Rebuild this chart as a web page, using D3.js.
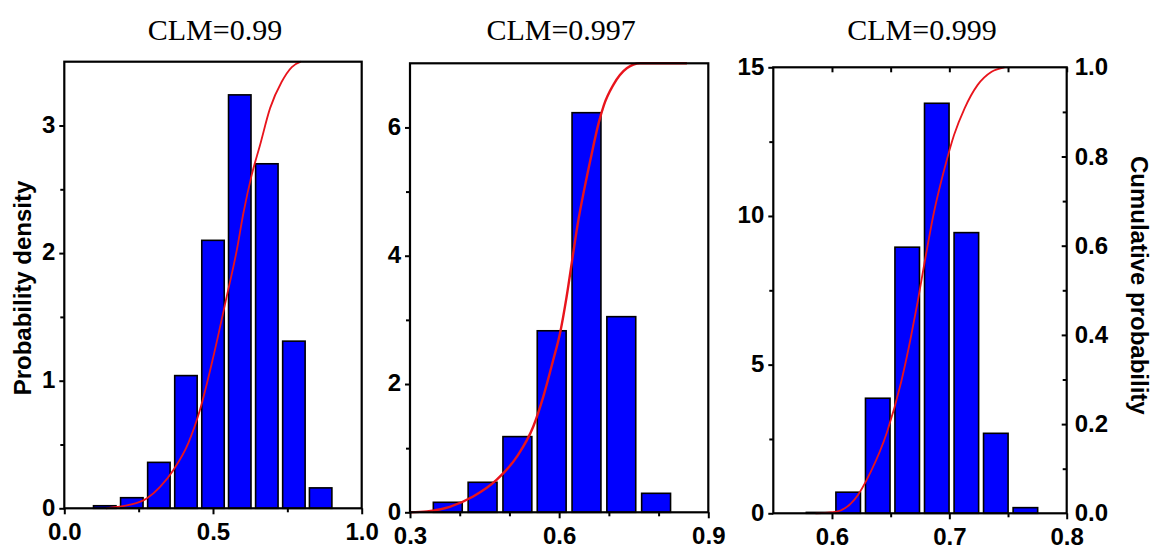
<!DOCTYPE html>
<html><head><meta charset="utf-8">
<script src="https://cdn.jsdelivr.net/npm/d3@7"></script>
<style>
html,body{margin:0;padding:0;background:#fff;}
svg{display:block;}
.tick text{font-family:"Liberation Sans",Arial,sans-serif;font-weight:bold;font-size:24px;fill:#000;}
</style></head>
<body>
<svg id="chart" width="1163" height="553"></svg>
<script>
// ---------- data ----------
const titles = ["CLM=0.99", "CLM=0.997", "CLM=0.999"];

const binCenters1 = [0.136, 0.227, 0.318, 0.409, 0.500, 0.590, 0.681, 0.772, 0.862];
const density1    = [0.02, 0.083, 0.36, 1.04, 2.10, 3.24, 2.70, 1.31, 0.16];
const cdfX1 = [0.14, 0.176, 0.221, 0.277, 0.322, 0.367, 0.417, 0.456, 0.501, 0.546, 0.580, 0.602, 0.630, 0.658, 0.692, 0.731, 0.765, 0.795];
const cdfP1 = [0.0, 0.003, 0.008, 0.022, 0.048, 0.086, 0.146, 0.220, 0.339, 0.474, 0.578, 0.660, 0.746, 0.813, 0.896, 0.955, 0.988, 1.0];

const binCenters2 = [0.376, 0.446, 0.516, 0.585, 0.655, 0.725, 0.795];
const density2    = [0.156, 0.468, 1.18, 2.83, 6.23, 3.05, 0.296];
const cdfX2 = [0.30, 0.334, 0.380, 0.427, 0.474, 0.515, 0.548, 0.568, 0.588, 0.602, 0.615, 0.628, 0.637, 0.651, 0.665, 0.679, 0.690, 0.709, 0.736, 0.763, 0.857];
const cdfP2 = [0.0, 0.002, 0.012, 0.035, 0.072, 0.124, 0.191, 0.257, 0.339, 0.400, 0.480, 0.575, 0.640, 0.722, 0.796, 0.865, 0.907, 0.952, 0.989, 1.0, 1.0];

const binCenters3 = [0.5886, 0.6138, 0.6390, 0.6641, 0.6893, 0.7145, 0.7396, 0.7648];
const density3    = [0.03, 0.71, 3.87, 8.95, 13.79, 9.44, 2.69, 0.19];
const cdfX3 = [0.586, 0.604, 0.619, 0.633, 0.647, 0.659, 0.667, 0.673, 0.679, 0.687, 0.696, 0.704, 0.713, 0.724, 0.736, 0.747];
const cdfP3 = [0.0, 0.004, 0.030, 0.093, 0.183, 0.295, 0.392, 0.474, 0.564, 0.676, 0.774, 0.848, 0.908, 0.960, 0.990, 1.0];

const xDomains = [[0, 1], [0.3, 0.9], [0.55, 0.8]];
const yDomains = [[0, 3.5], [0, 7], [0, 15]];
const xTickLabels = [[0, 0.5, 1.0], [0.3, 0.6, 0.9], [0.6, 0.7, 0.8]];
const xMinorTicks = [[0.25, 0.75], [0.4, 0.5, 0.7, 0.8], [0.65, 0.75]];
const yTickLabels = [[0, 1, 2, 3], [0, 2, 4, 6], [0, 5, 10, 15]];
const yMinorTicks = [[0.5, 1.5, 2.5], [1, 3, 5], [2.5, 7.5, 12.5]];
const cdfTickLabels = [0, 0.2, 0.4, 0.6, 0.8, 1.0];
const cdfMinorTicks = [0.1, 0.3, 0.5, 0.7, 0.9];
const yAxisTitle = "Probability density";
const cdfAxisTitle = "Cumulative probability";

// ---------- layout ----------
const frames = [
  {l: 64.3, r: 361.7, t: 61.7, b: 508.3},
  {l: 410, r: 708.3, t: 63.3, b: 512.3},
  {l: 773.3, r: 1066.7, t: 67.3, b: 513.3}
];
const series = [
  {c: binCenters1, d: density1, cx: cdfX1, cp: cdfP1},
  {c: binCenters2, d: density2, cx: cdfX2, cp: cdfP2},
  {c: binCenters3, d: density3, cx: cdfX3, cp: cdfP3}
];
const barFrac = 0.83;
const svg = d3.select("#chart");

series.forEach((s, i) => {
  const f = frames[i];
  const x = d3.scaleLinear().domain(xDomains[i]).range([f.l, f.r]);
  const y = d3.scaleLinear().domain(yDomains[i]).range([f.b, f.t]);
  const yp = d3.scaleLinear().domain([0, 1]).range([f.b, f.t]);
  const g = svg.append("g");

  // title
  g.append("text").attr("x", (f.l + f.r) / 2 + 2).attr("y", 40)
    .attr("text-anchor", "middle")
    .style("font-family", '"Liberation Serif","Times New Roman",serif')
    .style("font-size", "30px").text(titles[i]);

  // bars
  const step = s.c[1] - s.c[0];
  const bw = step * barFrac;
  g.selectAll("rect.bar").data(s.c.map((c, k) => ({c, v: s.d[k]}))).enter()
    .append("rect").attr("class", "bar")
    .attr("x", d => x(d.c - bw / 2))
    .attr("width", d => x(d.c + bw / 2) - x(d.c - bw / 2))
    .attr("y", d => y(d.v))
    .attr("height", d => y(0) - y(d.v))
    .attr("fill", "#0000ff").attr("stroke", "#000").attr("stroke-width", 1.6);

  // cdf curve
  const line = d3.line().x(d => x(d[0])).y(d => yp(d[1])).curve(d3.curveMonotoneX);
  g.append("path").datum(s.cx.map((v, k) => [v, s.cp[k]]))
    .attr("d", line).attr("fill", "none")
    .attr("stroke", "#e8141c").attr("stroke-width", i === 1 ? 2.4 : 1.8);

  // axes: bottom
  const xAx = d3.axisBottom(x).tickValues(xTickLabels[i]).tickFormat(d3.format(".1f"))
    .tickSizeInner(6).tickSizeOuter(0).tickPadding(9);
  const gx = g.append("g").attr("transform", `translate(0,${f.b})`).call(xAx);
  const gxm = g.append("g").attr("transform", `translate(0,${f.b})`)
    .call(d3.axisBottom(x).tickValues(xMinorTicks[i]).tickFormat("").tickSizeInner(4).tickSizeOuter(0));
  // left
  const yAx = d3.axisLeft(y).tickValues(yTickLabels[i]).tickFormat(d3.format("d"))
    .tickSizeInner(5).tickSizeOuter(0).tickPadding(4);
  const gy = g.append("g").attr("transform", `translate(${f.l},0)`).call(yAx);
  gy.selectAll(".tick text").attr("dy", "0.28em");
  const gym = g.append("g").attr("transform", `translate(${f.l},0)`)
    .call(d3.axisLeft(y).tickValues(yMinorTicks[i]).tickFormat("").tickSizeInner(4).tickSizeOuter(0));
  [gx, gxm, gy, gym].forEach(a => {
    a.select(".domain").remove();
    a.selectAll(".tick line").attr("stroke", "#000").attr("stroke-width", 2);
  });

  if (i === 2) {
    // top ticks (inward)
    const gt = g.append("g").attr("transform", `translate(0,${f.t})`)
      .call(d3.axisBottom(x).tickValues(xTickLabels[i].concat(xMinorTicks[i])).tickFormat("").tickSizeInner(5).tickSizeOuter(0));
    // right cumulative axis (ticks inward)
    const gr = g.append("g").attr("transform", `translate(${f.r},0)`)
      .call(d3.axisRight(yp).tickValues(cdfTickLabels).tickFormat(d3.format(".1f")).tickSizeInner(0).tickSizeOuter(0).tickPadding(8));
    const gri = g.append("g").attr("transform", `translate(${f.r},0)`)
      .call(d3.axisLeft(yp).tickValues(cdfTickLabels.slice(1, -1)).tickFormat("").tickSizeInner(5).tickSizeOuter(0));
    const grm = g.append("g").attr("transform", `translate(${f.r},0)`)
      .call(d3.axisLeft(yp).tickValues(cdfMinorTicks).tickFormat("").tickSizeInner(4).tickSizeOuter(0));
    [gt, gr, gri, grm].forEach(a => {
      a.select(".domain").remove();
      a.selectAll(".tick line").attr("stroke", "#000").attr("stroke-width", 2);
    });
    g.append("text")
      .attr("transform", `translate(${f.r + 73},${(f.t + f.b) / 2 - 5}) rotate(90)`)
      .attr("text-anchor", "middle").attr("dy", "0.35em")
      .style("font-family", '"Liberation Sans",Arial,sans-serif')
      .style("font-weight", "bold").style("font-size", "24px")
      .text(cdfAxisTitle);
  }

  // frame
  g.append("rect").attr("x", f.l).attr("y", f.t)
    .attr("width", f.r - f.l).attr("height", f.b - f.t)
    .attr("fill", "none").attr("stroke", "#000").attr("stroke-width", 2.2);

  if (i === 0) {
    g.append("text")
      .attr("transform", `translate(23,${(f.t + f.b) / 2 + 3}) rotate(-90)`)
      .attr("text-anchor", "middle").attr("dy", "0.35em")
      .style("font-family", '"Liberation Sans",Arial,sans-serif')
      .style("font-weight", "bold").style("font-size", "24px")
      .text(yAxisTitle);
  }
});
</script>
</body></html>
